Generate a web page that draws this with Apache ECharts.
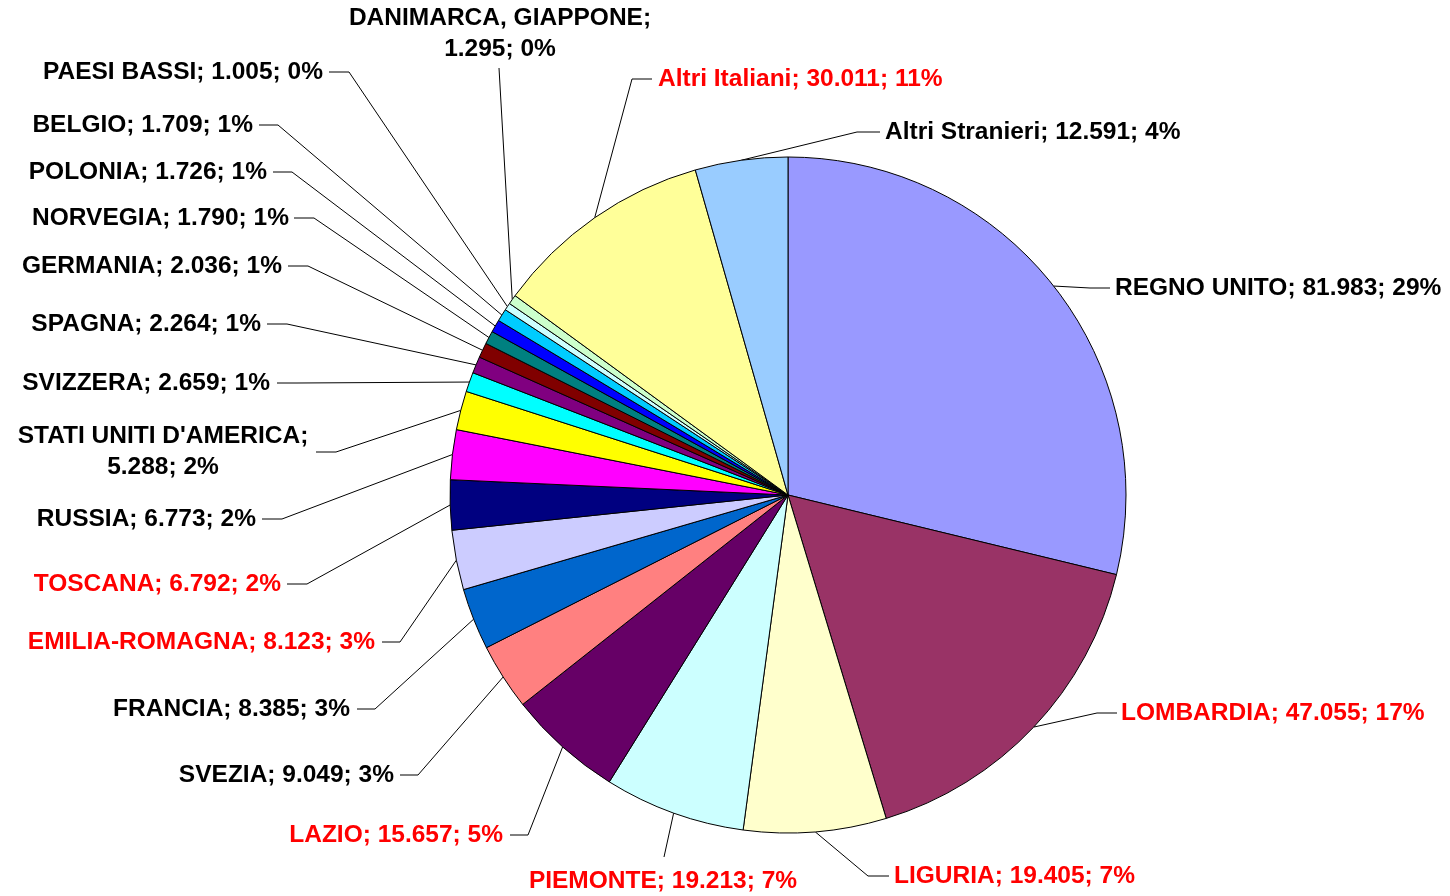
<!DOCTYPE html>
<html>
<head>
<meta charset="utf-8">
<script src="https://cdn.jsdelivr.net/npm/echarts@6/dist/echarts.min.js"></script>
<style>
html,body{margin:0;padding:0;background:#ffffff;}
#chart{width:1450px;height:896px;}
</style>
</head>
<body>
<div id="chart"></div>
<script>
// ---- data ----
const categories = [
  'REGNO UNITO', 'LOMBARDIA', 'LIGURIA', 'PIEMONTE', 'LAZIO', 'SVEZIA', 'FRANCIA',
  'EMILIA-ROMAGNA', 'TOSCANA', 'RUSSIA', "STATI UNITI D'AMERICA", 'SVIZZERA', 'SPAGNA',
  'GERMANIA', 'NORVEGIA', 'POLONIA', 'BELGIO', 'PAESI BASSI', 'DANIMARCA, GIAPPONE',
  'Altri Italiani', 'Altri Stranieri'
];
const values = [
  81983, 47055, 19405, 19213, 15657, 9049, 8385,
  8123, 6792, 6773, 5288, 2659, 2264,
  2036, 1790, 1726, 1709, 1005, 1295,
  30011, 12591
];
const redLabelNames = ['LOMBARDIA', 'LIGURIA', 'PIEMONTE', 'LAZIO', 'EMILIA-ROMAGNA', 'TOSCANA', 'Altri Italiani'];
const wrapAfterName = ['DANIMARCA, GIAPPONE', "STATI UNITI D'AMERICA"];

// ---- styles ----
const sliceColors = [
  '#9999FF', '#993366', '#FFFFCC', '#CCFFFF', '#660066', '#FF8080', '#0066CC',
  '#CCCCFF', '#000080', '#FF00FF', '#FFFF00', '#00FFFF', '#800080',
  '#800000', '#008080', '#0000FF', '#00CCFF', '#CCFFFF', '#CCFFCC',
  '#FFFF99', '#99CCFF'
];
// label placement (layout): [lineEndX, lineEndY, elbowX, textX, textY, align, verticalAlign]
const labelPlacement = [
  [1110, 288, 1090, 1115, 288, 'left', 'middle'],
  [1117, 713, 1097, 1121, 713, 'left', 'middle'],
  [889, 876, 868, 894, 876, 'left', 'middle'],
  [664, 857, null, 663, 866, 'center', 'top'],
  [510, 835, 528, 503, 835, 'right', 'middle'],
  [400, 775, 418, 394, 775, 'right', 'middle'],
  [357, 709, 375, 350, 709, 'right', 'middle'],
  [382, 642, 400, 375, 642, 'right', 'middle'],
  [287, 584, 307, 281, 584, 'right', 'middle'],
  [262, 519, 282, 256, 519, 'right', 'middle'],
  [316, 452, 336, 163, 452, 'center', 'middle'],
  [277, 383, 297, 270, 383, 'right', 'middle'],
  [267, 324, 287, 261, 324, 'right', 'middle'],
  [288, 266, 308, 282, 266, 'right', 'middle'],
  [294, 218, 314, 289, 218, 'right', 'middle'],
  [273, 172, 292, 267, 172, 'right', 'middle'],
  [259, 125, 278, 253, 125, 'right', 'middle'],
  [329, 72, 349, 323, 72, 'right', 'middle'],
  [499, 68, null, 500, 34, 'center', 'middle'],
  [652, 79, 632, 658, 79, 'left', 'middle'],
  [880, 132, 857, 885, 132, 'left', 'middle']
];

const total = values.reduce((a, b) => a + b, 0);

function fmtIt(n) {
  return String(n).replace(/\B(?=(\d{3})+(?!\d))/g, '.');
}

const seriesData = categories.map((name, i) => ({
  name: name,
  value: values[i],
  itemStyle: { color: sliceColors[i] },
  label: { color: redLabelNames.indexOf(name) >= 0 ? '#FF0000' : '#000000' }
}));

const chart = echarts.init(document.getElementById('chart'), null, { renderer: 'canvas' });
chart.setOption({
  backgroundColor: '#ffffff',
  animation: false,
  series: [{
    type: 'pie',
    center: [788, 495],
    radius: 338,
    startAngle: 90,
    clockwise: true,
    avoidLabelOverlap: false,
    data: seriesData,
    itemStyle: { borderColor: '#000000', borderWidth: 1 },
    emphasis: { disabled: true },
    label: {
      show: true,
      position: 'outside',
      fontFamily: 'Liberation Sans, Arial, sans-serif',
      fontWeight: 'bold',
      fontSize: 24.5,
      lineHeight: 31,
      formatter: function (p) {
        const sep = wrapAfterName.indexOf(p.name) >= 0 ? ';\n' : '; ';
        return p.name + sep + fmtIt(p.value) + '; ' + Math.round(p.value / total * 100) + '%';
      }
    },
    labelLine: {
      show: true,
      length: 20,
      length2: 20,
      smooth: false,
      lineStyle: { color: '#000000', width: 1 }
    },
    labelLayout: function (params) {
      const lp = labelPlacement[params.dataIndex];
      const pts = params.labelLinePoints;
      const start = pts && pts[0] ? pts[0] : [lp[0], lp[1]];
      const linePts = lp[2] == null
        ? [start, [lp[0], lp[1]]]
        : [start, [lp[2], lp[1]], [lp[0], lp[1]]];
      return {
        x: lp[3],
        y: lp[4],
        align: lp[5],
        verticalAlign: lp[6],
        labelLinePoints: linePts
      };
    }
  }]
});
</script>
</body>
</html>
